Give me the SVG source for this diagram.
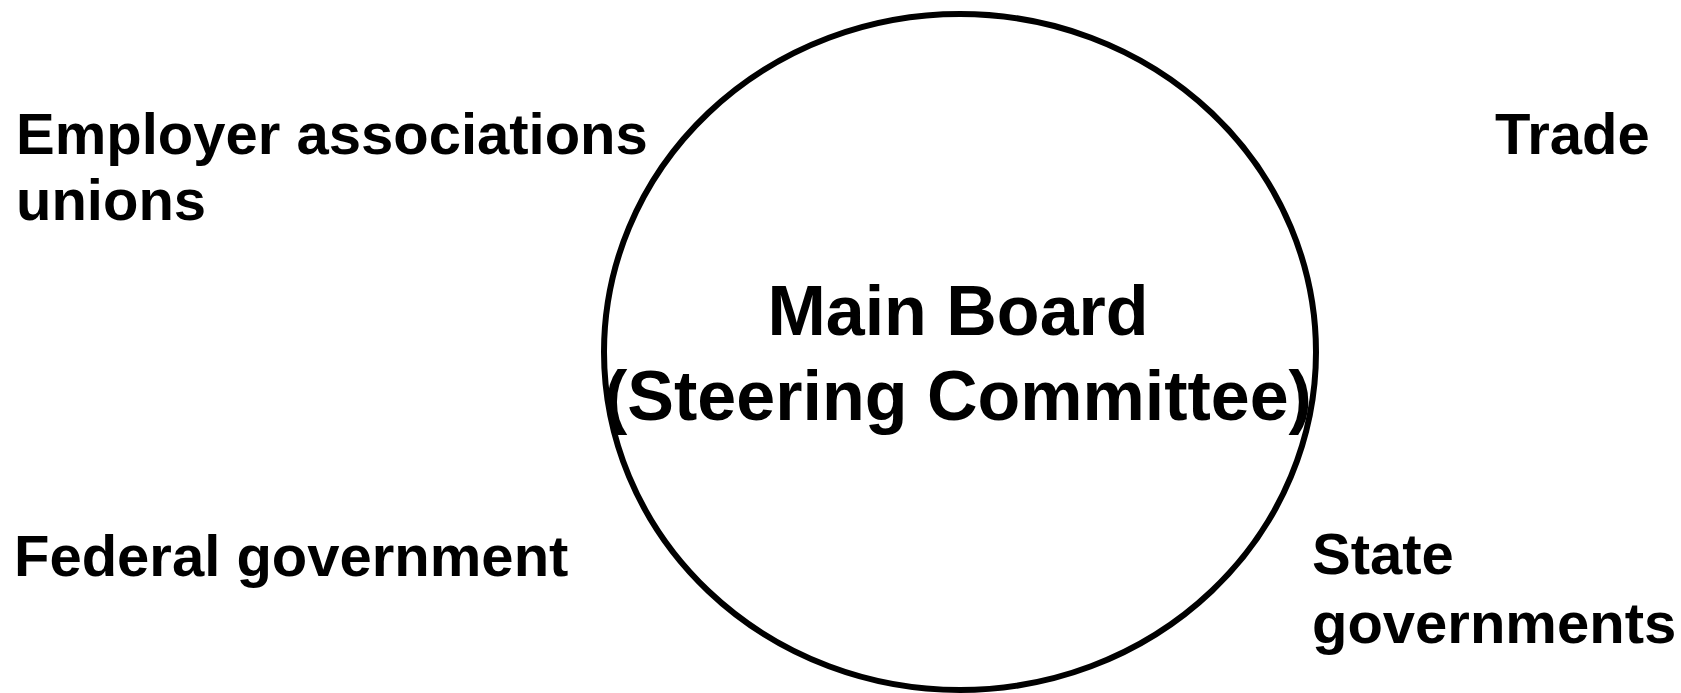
<svg xmlns="http://www.w3.org/2000/svg" width="1681" height="693" viewBox="0 0 1681 693">
<style>
.t{font-family:"Liberation Sans",Arial,sans-serif;font-weight:bold;font-size:58px;fill:#000}
.c{font-size:70px;text-anchor:middle}
</style>
<rect width="1681" height="693" fill="#fff"/>
<g id="main-board">
<ellipse cx="960" cy="352" rx="356" ry="338" fill="none" stroke="#000" stroke-width="6"/>
<text class="t c" x="958" y="335">Main Board</text>
<text class="t c" x="958" y="420">(Steering Committee)</text>
</g>
<g id="employer">
<text class="t" x="16" y="154">Employer associations</text>
<text class="t" x="16" y="220">unions</text>
</g>
<g id="trade">
<text class="t" x="1495" y="154">Trade</text>
</g>
<g id="federal">
<text class="t" x="14" y="576">Federal government</text>
</g>
<g id="state">
<text class="t" x="1312" y="574">State</text>
<text class="t" x="1312" y="643">governments</text>
</g>
<g id="connectors"></g>
</svg>
